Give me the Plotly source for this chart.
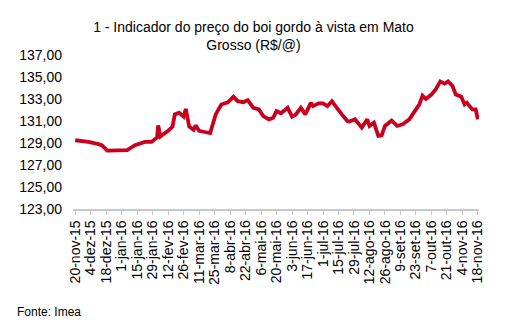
import plotly.graph_objects as go

dates = ["2015-11-20","2015-12-02","2015-12-11","2015-12-14","2015-12-19","2016-01-06","2016-01-13",
         "2016-01-22","2016-01-28","2016-02-02","2016-02-03","2016-02-05","2016-02-12","2016-02-16",
         "2016-02-18","2016-02-22","2016-02-26","2016-02-28","2016-03-02","2016-03-06","2016-03-08",
         "2016-03-11","2016-03-16","2016-03-21","2016-03-26","2016-03-31","2016-04-06","2016-04-11",
         "2016-04-15","2016-04-20","2016-04-24","2016-04-29","2016-05-04","2016-05-08","2016-05-13",
         "2016-05-17","2016-05-20","2016-05-24","2016-05-30","2016-06-03","2016-06-06","2016-06-11",
         "2016-06-15","2016-06-20","2016-06-22","2016-06-27","2016-07-01","2016-07-05","2016-07-09",
         "2016-07-14","2016-07-18","2016-07-23","2016-07-25","2016-07-30","2016-08-02","2016-08-05",
         "2016-08-10","2016-08-12","2016-08-16","2016-08-20","2016-08-23","2016-08-26","2016-09-01",
         "2016-09-06","2016-09-11","2016-09-17","2016-09-22","2016-09-26","2016-09-29","2016-10-02",
         "2016-10-07","2016-10-11","2016-10-15","2016-10-19","2016-10-22","2016-10-26","2016-10-29",
         "2016-11-03","2016-11-06","2016-11-08","2016-11-13","2016-11-16","2016-11-18"]
prices = [129.25,129.1,128.9,128.8,128.3,128.35,128.8,
          129.1,129.1,129.5,130.6,129.6,130.1,130.5,
          131.6,131.75,131.4,132.1,130.5,130.2,130.6,
          130.1,130.0,129.9,131.6,132.5,132.7,133.2,
          132.8,132.7,132.9,132.2,132.05,131.45,131.15,
          131.3,131.9,131.7,132.2,131.4,131.55,132.2,
          131.6,132.65,132.35,132.6,132.6,132.35,132.8,
          132.05,131.6,131.0,130.95,131.15,130.7,130.4,
          131.15,130.55,130.85,129.65,129.7,130.55,131.05,
          130.55,130.7,131.15,131.9,132.5,133.3,133.0,
          133.4,133.9,134.6,134.4,134.6,134.2,133.4,
          133.2,132.5,132.65,132.05,132.05,131.15]

tick_dates = ["2015-11-20","2015-12-04","2015-12-18","2016-01-01","2016-01-15","2016-01-29",
              "2016-02-12","2016-02-26","2016-03-11","2016-03-25","2016-04-08","2016-04-22",
              "2016-05-06","2016-05-20","2016-06-03","2016-06-17","2016-07-01","2016-07-15",
              "2016-07-29","2016-08-12","2016-08-26","2016-09-09","2016-09-23","2016-10-07",
              "2016-10-21","2016-11-04","2016-11-18"]
tick_text = ["20-nov-15","4-dez-15","18-dez-15","1-jan-16","15-jan-16","29-jan-16",
             "12-fev-16","26-fev-16","11-mar-16","25-mar-16","8-abr-16","22-abr-16",
             "6-mai-16","20-mai-16","3-jun-16","17-jun-16","1-jul-16","15-jul-16",
             "29-jul-16","12-ago-16","26-ago-16","9-set-16","23-set-16","7-out-16",
             "21-out-16","4-nov-16","18-nov-16"]
y_ticks = [123, 125, 127, 129, 131, 133, 135, 137]

fig = go.Figure()
fig.add_trace(go.Scatter(x=dates, y=prices, mode="lines",
                         line=dict(color="#C8001E", width=3.8), hoverinfo="skip"))

fig.update_layout(
    width=510, height=333,
    margin=dict(l=73, r=31, t=55, b=124),
    paper_bgcolor="white", plot_bgcolor="white",
    showlegend=False,
    separators=",.",
    font=dict(family="Liberation Sans, Arial, sans-serif", size=14, color="black"),
    title=dict(text="1 - Indicador do preço do boi gordo à vista em Mato<br>Grosso (R$/@)",
               x=0.497, xanchor="center", y=1 - 32/333, yanchor="top",
               font=dict(size=14, color="black")),
    xaxis=dict(type="date", range=["2015-11-18", "2016-11-19"],
               tickmode="array", tickvals=tick_dates, ticktext=tick_text,
               tickangle=-90, ticks="outside", ticklen=4, tickcolor="#C8C8C8",
               showline=True, linecolor="#C8C8C8", linewidth=1.5,
               showgrid=False, zeroline=False,
               tickfont=dict(size=14, color="black")),
    yaxis=dict(range=[123, 137], tickmode="array", tickvals=y_ticks,
               tickformat=".2f", showgrid=False, zeroline=False, showline=False,
               ticks="", ticklabelstandoff=10,
               tickfont=dict(size=14, color="black")),
)
fig.add_annotation(text="Fonte: Imea", xref="paper", yref="paper",
                   x=-58/406, y=-(312-209)/154, xanchor="left", yanchor="middle",
                   showarrow=False, font=dict(size=12, color="black"))

fig.write_html("out.html")
